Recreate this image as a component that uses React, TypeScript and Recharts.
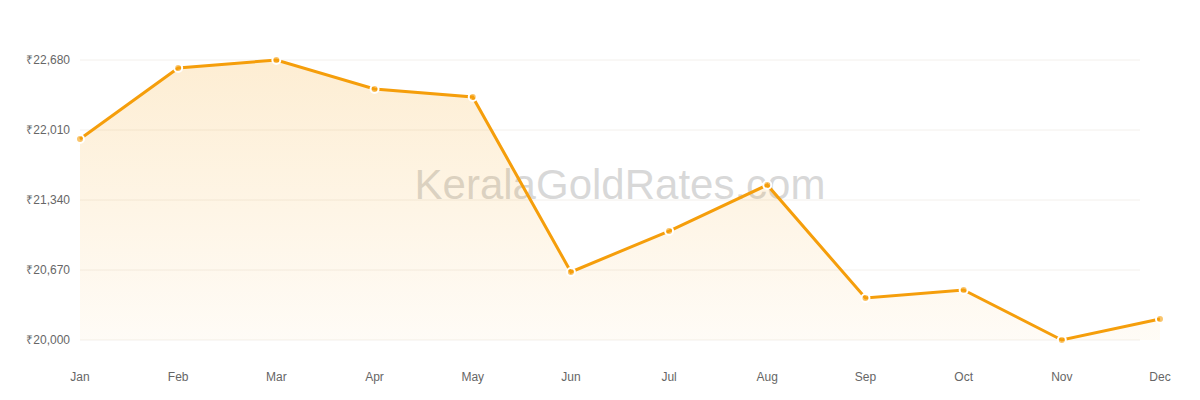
import { AreaChart, Area, XAxis, YAxis, CartesianGrid } from "recharts"

const months = ["Jan", "Feb", "Mar", "Apr", "May", "Jun", "Jul", "Aug", "Sep", "Oct", "Nov", "Dec"]
const rates = [21924, 22603, 22680, 22402, 22326, 20651, 21043, 21484, 20402, 20479, 20000, 20201]
const yTicks = [20000, 20670, 21340, 22010, 22680]

const data = months.map((month, i) => ({ month, rate: rates[i] }))

const formatRupee = (v: number) => `₹${v.toLocaleString("en-IN")}`

export default function App() {
  return (
    <div style={{ position: "absolute", left: 0, top: 0, width: 1200, height: 400, fontFamily: "'Liberation Sans', Arial, sans-serif" }}>
      <div
        style={{
          position: "absolute",
          left: 0,
          width: 1240,
          top: 161,
          textAlign: "center",
          fontSize: 42,
          color: "rgba(190,190,190,0.6)",
          lineHeight: "48px",
        }}
      >
        KeralaGoldRates.com
      </div>
      <AreaChart
        width={1200}
        height={400}
        data={data}
        margin={{ top: 60, right: 40, bottom: 0, left: 0 }}
        style={{ position: "relative" }}
      >
        <defs>
          <linearGradient id="goldFill" x1="0" y1="0" x2="0" y2="1">
            <stop offset="0%" stopColor="#f59e0b" stopOpacity={0.3} />
            <stop offset="100%" stopColor="#f59e0b" stopOpacity={0.06} />
          </linearGradient>
        </defs>
        <CartesianGrid vertical={false} stroke="#f3f0ec" width={1060} />
        <XAxis
          dataKey="month"
          axisLine={false}
          tickLine={false}
          height={60}
          tickMargin={26}
          tick={{ fontSize: 12, fill: "#666" }}
          interval={0}
        />
        <YAxis
          domain={[20000, 22680]}
          ticks={yTicks}
          axisLine={false}
          tickLine={false}
          width={80}
          tickMargin={4}
          tickFormatter={formatRupee}
          tick={{ fontSize: 12, fill: "#666" }}
        />
        <Area
          type="linear"
          dataKey="rate"
          stroke="#f59e0b"
          strokeWidth={3}
          fill="url(#goldFill)"
          dot={{ r: 4, fill: "#f59e0b", stroke: "#fff", strokeWidth: 2 }}
          activeDot={false}
          isAnimationActive={false}
        />
      </AreaChart>
    </div>
  )
}
